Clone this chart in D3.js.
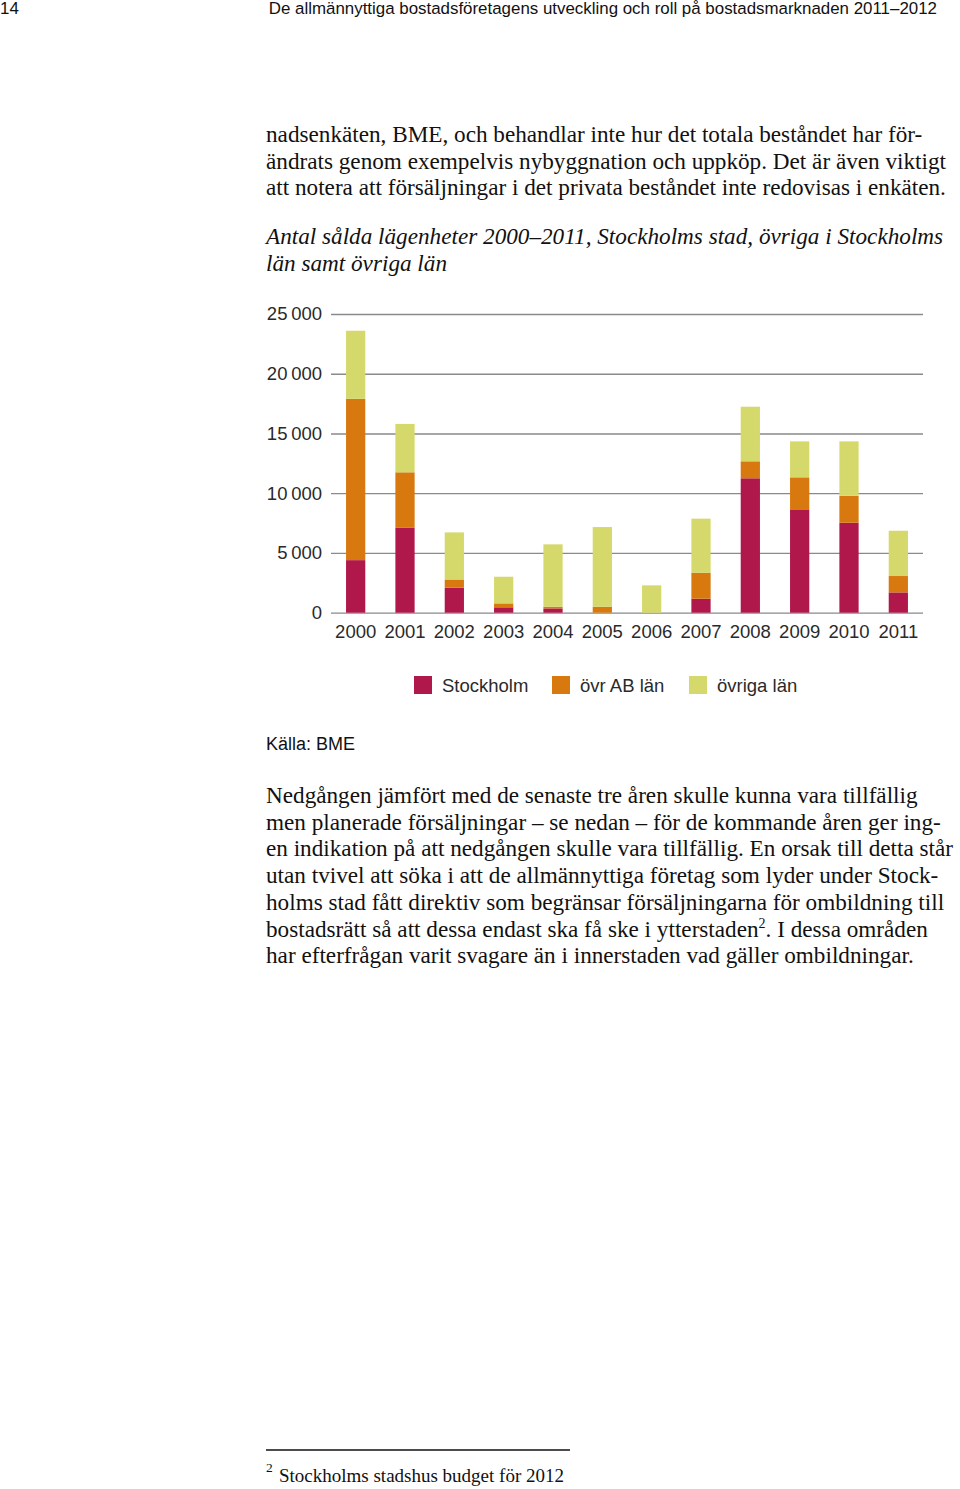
<!DOCTYPE html>
<html>
<head>
<meta charset="utf-8">
<script src="https://cdn.jsdelivr.net/npm/d3@7"></script>
<style>
  body { margin: 0; background: #fff; }
  .serif { font-family: "Liberation Serif", "Times New Roman", serif; fill: #111; }
  .sans { font-family: "Liberation Sans", Arial, sans-serif; fill: #111; }
  .tick text { font-family: "Liberation Sans", Arial, sans-serif; fill: #2a2a2a; }
</style>
</head>
<body>
<div id="page"></div>
<script>
// chart data
var years = ["2000", "2001", "2002", "2003", "2004", "2005", "2006", "2007", "2008", "2009", "2010", "2011"];
var stockholm = [4400, 7100, 2100, 450, 360, 0, 0, 1170, 11250, 8650, 7530, 1700];
var ovrAB = [13500, 4650, 680, 330, 140, 500, 0, 2180, 1420, 2680, 2260, 1370];
var ovriga = [5700, 4050, 3940, 2230, 5220, 6670, 2290, 4520, 4570, 3010, 4550, 3790];
var yTicks = [0, 5000, 10000, 15000, 20000, 25000];
var seriesNames = ["Stockholm", "övr AB län", "övriga län"];
var seriesColors = ["#b0184b", "#d8790f", "#d5d96b"];

var bodyTop = [
  "nadsenkäten, BME, och behandlar inte hur det totala beståndet har för-",
  "ändrats genom exempelvis nybyggnation och uppköp. Det är även viktigt",
  "att notera att försäljningar i det privata beståndet inte redovisas i enkäten."
];
var caption = [
  "Antal sålda lägenheter 2000–2011, Stockholms stad, övriga i Stockholms",
  "län samt övriga län"
];
var bodyBottom = [
  "Nedgången jämfört med de senaste tre åren skulle kunna vara tillfällig",
  "men planerade försäljningar – se nedan – för de kommande åren ger ing-",
  "en indikation på att nedgången skulle vara tillfällig. En orsak till detta står",
  "utan tvivel att söka i att de allmännyttiga företag som lyder under Stock-",
  "holms stad fått direktiv som begränsar försäljningarna för ombildning till",
  "bostadsrätt så att dessa endast ska få ske i ytterstaden",
  "har efterfrågan varit svagare än i innerstaden vad gäller ombildningar."
];

var svgWidth = 960;
var svgHeight = 1489;

var svg = d3.select("#page")
  .append("svg")
  .attr("width", svgWidth)
  .attr("height", svgHeight);

// page header
svg.append("text")
  .attr("class", "sans")
  .attr("x", 0)
  .attr("y", 14)
  .attr("font-size", "16.9px")
  .text("14");

svg.append("text")
  .attr("class", "sans")
  .attr("x", 937)
  .attr("y", 14)
  .attr("text-anchor", "end")
  .attr("font-size", "16.9px")
  .text("De allmännyttiga bostadsföretagens utveckling och roll på bostadsmarknaden 2011–2012");

// body text above the chart
svg.selectAll(".topline")
  .data(bodyTop)
  .enter()
  .append("text")
  .attr("class", "serif topline")
  .attr("x", 266)
  .attr("y", (d, i) => 142 + i * 26.7)
  .attr("font-size", "23.2px")
  .text(d => d);

svg.selectAll(".caption")
  .data(caption)
  .enter()
  .append("text")
  .attr("class", "serif caption")
  .attr("x", 266)
  .attr("y", (d, i) => 244 + i * 27)
  .attr("font-size", "23.2px")
  .attr("font-style", "italic")
  .text(d => d);

// chart
var plotLeft = 331, plotRight = 923;
var plotTop = 314, plotBottom = 612.7;

var xBand = d3.scaleBand()
  .domain(years)
  .range([plotLeft, plotRight])
  .paddingInner(0.61)
  .paddingOuter(0.305);

var yLinear = d3.scaleLinear()
  .domain([0, 25000])
  .range([plotBottom, plotTop]);

var fmt = d => d3.format(",")(d).replace(",", "\u2009");

var leftAxis = d3.axisLeft(yLinear)
  .tickValues(yTicks)
  .tickSize(-(plotRight - plotLeft))
  .tickPadding(9)
  .tickFormat(fmt);

var yAxisG = svg.append("g")
  .attr("transform", `translate(${plotLeft}, 0)`)
  .call(leftAxis);
yAxisG.select(".domain").remove();
yAxisG.selectAll(".tick line")
  .attr("stroke", "#8a8a8a")
  .attr("stroke-width", 1.3);
yAxisG.selectAll(".tick text")
  .attr("font-size", "18.5px");

var bottomAxis = d3.axisBottom(xBand)
  .tickSize(0)
  .tickPadding(12);

var xAxisG = svg.append("g")
  .attr("transform", `translate(0, ${plotBottom})`)
  .call(bottomAxis);
xAxisG.select(".domain").remove();
xAxisG.selectAll(".tick text")
  .attr("font-size", "18.5px");

var table = years.map((y, i) => ({
  year: y,
  s0: stockholm[i],
  s1: ovrAB[i],
  s2: ovriga[i]
}));

var stacked = d3.stack().keys(["s0", "s1", "s2"])(table);

svg.append("g")
  .selectAll("g")
  .data(stacked)
  .enter()
  .append("g")
  .attr("fill", (d, i) => seriesColors[i])
  .selectAll("rect")
  .data(d => d)
  .enter()
  .append("rect")
  .attr("x", d => xBand(d.data.year))
  .attr("width", xBand.bandwidth())
  .attr("y", d => yLinear(d[1]))
  .attr("height", d => yLinear(d[0]) - yLinear(d[1]));

// legend
var legendX = [414, 552, 689];
var legend = svg.selectAll(".legend")
  .data(seriesNames)
  .enter()
  .append("g")
  .attr("class", "legend")
  .attr("transform", (d, i) => `translate(${legendX[i]}, 676)`);

legend.append("rect")
  .attr("width", 18)
  .attr("height", 18)
  .attr("fill", (d, i) => seriesColors[i]);

legend.append("text")
  .attr("class", "sans")
  .attr("x", 28)
  .attr("y", 16)
  .attr("font-size", "18.5px")
  .style("fill", "#2a2a2a")
  .text(d => d);

// source
svg.append("text")
  .attr("class", "sans")
  .attr("x", 266)
  .attr("y", 750)
  .attr("font-size", "18px")
  .text("Källa: BME");

// body text below the chart
var lines = svg.selectAll(".botline")
  .data(bodyBottom)
  .enter()
  .append("text")
  .attr("class", "serif botline")
  .attr("x", 266)
  .attr("y", (d, i) => 803 + i * 26.7)
  .attr("font-size", "23.2px")
  .text(d => d);

// footnote mark in the sixth line
var sixth = lines.filter((d, i) => i === 5);
sixth.append("tspan")
  .attr("dy", -9)
  .attr("font-size", "14px")
  .text("2");
sixth.append("tspan")
  .attr("dy", 9)
  .text(". I dessa områden");

// footnote
svg.append("line")
  .attr("x1", 266)
  .attr("x2", 570)
  .attr("y1", 1450)
  .attr("y2", 1450)
  .attr("stroke", "#111")
  .attr("stroke-width", 1.5);

svg.append("text")
  .attr("class", "serif")
  .attr("x", 266)
  .attr("y", 1472)
  .attr("font-size", "13.5px")
  .text("2");

svg.append("text")
  .attr("class", "serif")
  .attr("x", 279)
  .attr("y", 1482)
  .attr("font-size", "19px")
  .text("Stockholms stadshus budget för 2012");
</script>
</body>
</html>
